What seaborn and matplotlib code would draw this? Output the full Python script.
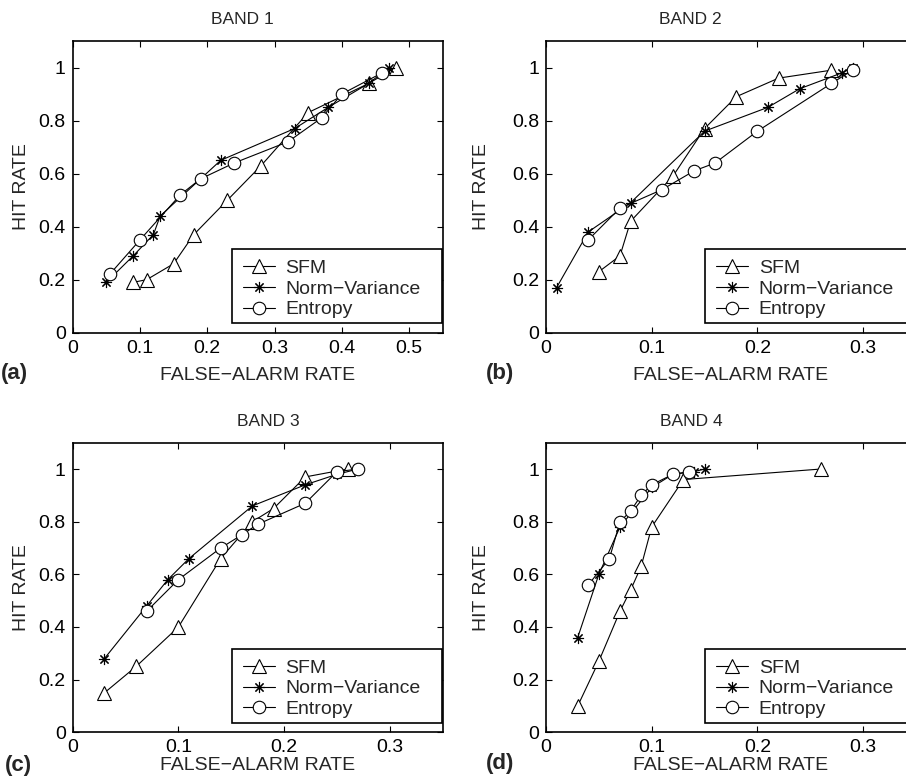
import matplotlib
matplotlib.use("Agg")
import matplotlib.pyplot as plt
from matplotlib.patches import Rectangle
import seaborn as sns

sns.set_style("white")
plt.rcParams['font.family'] = ['Liberation Sans', 'DejaVu Sans']

# ---------------- data ----------------
titles = ["BAND 1", "BAND 2", "BAND 3", "BAND 4"]
panel_tags = ["(a)", "(b)", "(c)", "(d)"]
series_names = ["SFM", "Norm\u2212Variance", "Entropy"]

# BAND 1
b1_sfm_x = [0.09, 0.11, 0.15, 0.18, 0.23, 0.28, 0.35, 0.44, 0.48]
b1_sfm_y = [0.19, 0.20, 0.26, 0.37, 0.50, 0.63, 0.83, 0.94, 1.00]
b1_nv_x = [0.05, 0.09, 0.12, 0.13, 0.22, 0.33, 0.38, 0.44, 0.47]
b1_nv_y = [0.19, 0.29, 0.37, 0.44, 0.65, 0.77, 0.85, 0.94, 1.00]
b1_en_x = [0.055, 0.10, 0.16, 0.19, 0.24, 0.32, 0.37, 0.40, 0.46]
b1_en_y = [0.22, 0.35, 0.52, 0.58, 0.64, 0.72, 0.81, 0.90, 0.98]

# BAND 2
b2_sfm_x = [0.05, 0.07, 0.08, 0.12, 0.15, 0.18, 0.22, 0.27]
b2_sfm_y = [0.23, 0.29, 0.42, 0.59, 0.77, 0.89, 0.96, 0.99]
b2_nv_x = [0.01, 0.04, 0.08, 0.15, 0.21, 0.24, 0.28, 0.29]
b2_nv_y = [0.17, 0.38, 0.49, 0.76, 0.85, 0.92, 0.98, 1.00]
b2_en_x = [0.04, 0.07, 0.11, 0.14, 0.16, 0.20, 0.27, 0.29]
b2_en_y = [0.35, 0.47, 0.54, 0.61, 0.64, 0.76, 0.94, 0.99]

# BAND 3
b3_sfm_x = [0.03, 0.06, 0.10, 0.14, 0.17, 0.19, 0.22, 0.26]
b3_sfm_y = [0.15, 0.25, 0.40, 0.66, 0.80, 0.85, 0.97, 1.00]
b3_nv_x = [0.03, 0.07, 0.09, 0.11, 0.17, 0.22, 0.25, 0.27]
b3_nv_y = [0.28, 0.48, 0.58, 0.66, 0.86, 0.94, 0.98, 1.00]
b3_en_x = [0.07, 0.10, 0.14, 0.16, 0.175, 0.22, 0.25, 0.27]
b3_en_y = [0.46, 0.58, 0.70, 0.75, 0.79, 0.87, 0.99, 1.00]

# BAND 4
b4_sfm_x = [0.03, 0.05, 0.07, 0.08, 0.09, 0.10, 0.13, 0.26]
b4_sfm_y = [0.10, 0.27, 0.46, 0.54, 0.63, 0.78, 0.96, 1.00]
b4_nv_x = [0.03, 0.05, 0.07, 0.10, 0.12, 0.14, 0.15]
b4_nv_y = [0.36, 0.60, 0.78, 0.93, 0.98, 0.99, 1.00]
b4_en_x = [0.04, 0.06, 0.07, 0.08, 0.09, 0.10, 0.12, 0.135]
b4_en_y = [0.56, 0.66, 0.80, 0.84, 0.90, 0.94, 0.98, 0.99]

panels = [
    [(b1_sfm_x, b1_sfm_y), (b1_nv_x, b1_nv_y), (b1_en_x, b1_en_y)],
    [(b2_sfm_x, b2_sfm_y), (b2_nv_x, b2_nv_y), (b2_en_x, b2_en_y)],
    [(b3_sfm_x, b3_sfm_y), (b3_nv_x, b3_nv_y), (b3_en_x, b3_en_y)],
    [(b4_sfm_x, b4_sfm_y), (b4_nv_x, b4_nv_y), (b4_en_x, b4_en_y)],
]
x_limits = [0.55, 0.35, 0.35, 0.35]
x_ticks = [[0, 0.1, 0.2, 0.3, 0.4, 0.5], [0, 0.1, 0.2, 0.3], [0, 0.1, 0.2, 0.3], [0, 0.1, 0.2, 0.3]]
y_ticks = [0, 0.2, 0.4, 0.6, 0.8, 1.0]

# ---------------- layout (pixels) ----------------
W, H = 906, 783
fig = plt.figure(figsize=(W / 100, H / 100), dpi=100)

ax_px = [  # left, top, right, bottom
    (72.7, 41.0, 442.7, 332.7),
    (546.0, 41.0, 916.0, 332.7),
    (72.7, 442.7, 442.7, 732.3),
    (546.0, 442.7, 916.0, 732.3),
]
title_x_px = [242, 690, 268, 691]
title_y_px = [20, 20, 421, 421]
ylabel_x_px = [21, 481, 21, 481]
xlabel_y_px = [375.5, 375.5, 765.5, 765.5]
tag_pos_px = [(1, 374), (486, 374), (5, 765), (486, 764)]

fs = 14
title_fs = 12.5
markers = ['^', (8, 2, 0), 'o']
msizes = [10, 8, 9]

for i, (l, t, r, b) in enumerate(ax_px):
    ax = fig.add_axes([l / W, 1 - b / H, (r - l) / W, (b - t) / H])
    for (xs, ys), name, mk, ms in zip(panels[i], series_names, markers, msizes):
        sns.lineplot(x=xs, y=ys, ax=ax, sort=False, estimator=None,
                     color='black', linewidth=0.8, marker=mk, markersize=ms,
                     markerfacecolor='white', markeredgecolor='black',
                     markeredgewidth=0.8, label=name)
    ax.set_xlim(0, x_limits[i])
    ax.set_ylim(0, 1.1)
    ax.set_xticks(x_ticks[i])
    ax.set_xticklabels(['0' if v == 0 else f'{v:g}' for v in x_ticks[i]], fontsize=fs)
    ax.set_yticks(y_ticks)
    ax.set_yticklabels(['0' if v == 0 else f'{v:g}' for v in y_ticks], fontsize=fs)
    ax.tick_params(direction='in', length=4, width=0.8, top=True, right=True,
                   bottom=True, left=True, pad=5, colors='black')
    for sp in ax.spines.values():
        sp.set_visible(True)
        sp.set_color('black')
        sp.set_linewidth(1.2)
    ax.set_xlabel("FALSE\u2212ALARM RATE", fontsize=fs)
    ax.set_ylabel("HIT RATE", fontsize=fs)
    axh = b - t
    axw = r - l
    ax.xaxis.set_label_coords(0.5, -(xlabel_y_px[i] - b) / axh)
    ax.xaxis.label.set_va('center')
    ax.yaxis.set_label_coords((ylabel_x_px[i] - l) / axw, 0.5)
    ax.yaxis.label.set_va('center')
    ax.grid(False)
    fig.text(title_x_px[i] / W, 1 - title_y_px[i] / H, titles[i], fontsize=title_fs,
             ha='center', va='center')
    fig.text(tag_pos_px[i][0] / W, 1 - tag_pos_px[i][1] / H, panel_tags[i],
             fontsize=16, fontweight='bold', ha='left', va='center')

    # legend box (MATLAB-style, padded) and its entries
    box_left, box_w = 159.0, 210.0
    box_bottom, box_h = 9.7, 74.0
    ax.add_patch(Rectangle((box_left / axw, box_bottom / axh), box_w / axw, box_h / axh,
                           transform=ax.transAxes, facecolor='white', edgecolor='black',
                           linewidth=1.2, zorder=4.5, clip_on=False))
    leg = ax.legend(loc='center left',
                    bbox_to_anchor=((box_left + 11.0) / axw, (box_bottom + box_h / 2 - 3.0) / axh),
                    borderaxespad=0, borderpad=0, fontsize=fs, handlelength=1.65,
                    handletextpad=0.55, labelspacing=0.15, frameon=False)
    leg.set_zorder(5)

fig.savefig("out.png", dpi=100)
